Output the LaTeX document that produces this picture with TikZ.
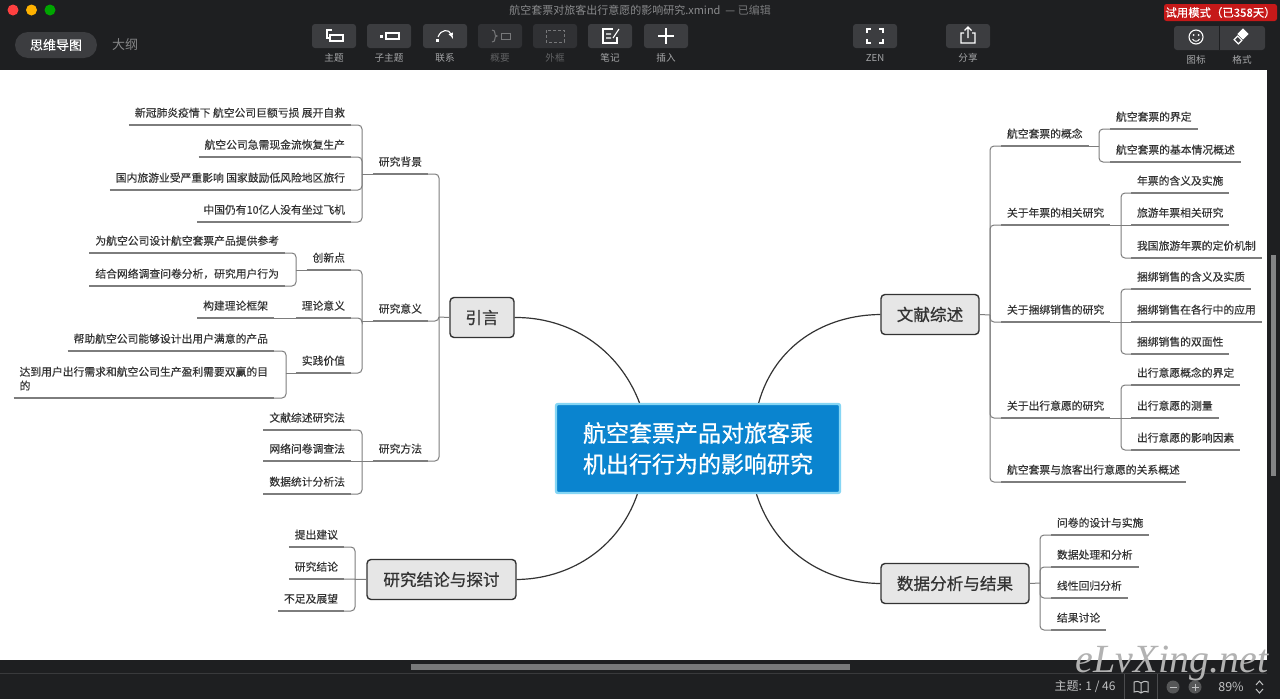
\documentclass[tikz,border=0pt]{standalone}
\usepackage{fontspec}
\setmainfont{Noto Sans CJK SC}
\newfontfamily\boxfont{Noto Sans CJK SC}[FakeBold=0.7]
\newfontfamily\subfont{Noto Sans CJK SC}[FakeBold=0.25]
\newfontfamily\markfont{Liberation Serif}
\usepackage{tikz}
\definecolor{barcol}{HTML}{1E1F21}
\definecolor{btncol}{HTML}{3C3D40}
\definecolor{dimcol}{HTML}{77787A}
\definecolor{labcol}{HTML}{A5A6A8}
\definecolor{linecol}{HTML}{7D7D7D}
\definecolor{inkcol}{HTML}{333333}
\definecolor{boxcol}{HTML}{E6E6E6}
\definecolor{bluecol}{HTML}{0A84CF}
\definecolor{edgecol}{HTML}{86D6F4}

\begin{document}
\begin{tikzpicture}[x=1pt, y=-1pt,
	main/.style = {draw=inkcol, fill=boxcol, text=inkcol, line width=1.4pt, rounded corners=4pt, minimum height=40pt, inner sep=0pt, font=\boxfont\fontsize{16.6}{20}\selectfont},
	sub/.style = {text=inkcol, inner xsep=6pt, inner ysep=4pt, outer sep=0pt, font=\subfont\fontsize{10.8}{14}\selectfont, execute at begin node=\strut, append after command={(\tikzlastnode.south west) edge[line width=1.1pt, draw=linecol] (\tikzlastnode.south east)}},
	lsub/.style = {sub, anchor=south east},
	rsub/.style = {sub, anchor=south west},
	link/.style = {draw=linecol, line width=1pt, rounded corners=4pt},
	curve/.style = {draw=inkcol, line width=1.2pt},
	btn/.style = {fill=btncol, rounded corners=3pt, minimum width=44pt, minimum height=24pt, inner sep=0pt},
	lab/.style = {text=labcol, inner sep=0pt, font=\fontsize{9.6}{12}\selectfont},
	dimlab/.style = {text=dimcol!75!barcol, inner sep=0pt, font=\fontsize{9.6}{12}\selectfont},
	icon/.style = {draw=white, line width=1.1pt},
	dimicon/.style = {draw=dimcol, line width=1pt}]
	\useasboundingbox (0,0) rectangle (1280,699);
	\fill[barcol] (0,0) rectangle (1280,699);
	\fill[white] (0,70) rectangle (1267,660);
	\fill[white!45!barcol] (1271,255) rectangle (1276,476);
	\fill[white!40!barcol] (411,664) rectangle (850,670);
	\draw[white!12!barcol] (0,673) -- (1267,673);

	\node[draw=edgecol, fill=bluecol, text=white, line width=2.4pt, rounded corners=2pt, minimum width=284pt, minimum height=89pt, align=center, font=\boxfont\fontsize{23}{31}\selectfont] (m) at (698,448.5) {航空套票产品对旅客乘\\机出行行为的影响研究};
	\node[main, minimum width=64pt] (n1) at (482,317.5) {引言};
	\node[main, minimum width=98pt] (n2) at (930,314.5) {文献综述};
	\node[main, minimum width=149pt] (n3) at (441.5,579.5) {研究结论与探讨};
	\node[main, minimum width=148pt] (n4) at (955,583.5) {数据分析与结果};
	\draw[curve] (m.142.5) .. controls (618,347) and (568,317) .. (n1.east);
	\draw[curve] (m.37.5) .. controls (775,345) and (825,315) .. (n2.west);
	\draw[curve] (m.217.5) .. controls (618,550) and (568,579) .. (n3.east);
	\draw[curve] (m.322.5) .. controls (775,552) and (825,583) .. (n4.west);

	\node[lsub] (a) at (428,174) {研究背景};
	\node[lsub] (a1) at (351,125) {新冠肺炎疫情下 航空公司巨额亏损 展开自救};
	\node[lsub] (a2) at (351,157) {航空公司急需现金流恢复生产};
	\node[lsub] (a3) at (351,190) {国内旅游业受严重影响 国家鼓励低风险地区旅行};
	\node[lsub] (a4) at (351,222) {中国仍有10亿人没有坐过飞机};
	\node[lsub] (b) at (428,321) {研究意义};
	\node[lsub] (b1) at (351,270) {创新点};
	\node[lsub] (b11) at (285,253) {为航空公司设计航空套票产品提供参考};
	\node[lsub] (b12) at (285,286) {结合网络调查问卷分析，研究用户行为};
	\node[lsub] (b2) at (351,318) {理论意义};
	\node[lsub] (b21) at (274,318) {构建理论框架};
	\node[lsub] (b3) at (351,373) {实践价值};
	\node[lsub] (b31) at (274,351) {帮助航空公司能够设计出用户满意的产品};
	\node[lsub, align=left] (b32) at (274,398) {达到用户出行需求和航空公司生产盈利需要双赢的目\\的\strut};
	\node[lsub] (c) at (428,461) {研究方法};
	\node[lsub] (c1) at (351,430) {文献综述研究法};
	\node[lsub] (c2) at (351,461) {网络问卷调查法};
	\node[lsub] (c3) at (351,494) {数据统计分析法};
	\coordinate (j1) at (439,317);
	\coordinate (ja) at (362,174);
	\coordinate (jb) at (362,321);
	\coordinate (jb1) at (296,270);
	\coordinate (jb3) at (286,373);
	\coordinate (jc) at (362,461);
	\draw[link] (j1) -- (n1.west);
	\draw[link] (a.south east) -| (j1);
	\draw[link] (b.south east) -| (j1);
	\draw[link] (c.south east) -| (j1);
	\draw[link] (a.south west) -- (ja);
	\draw[link] (a1.south east) -| (ja);
	\draw[link] (a2.south east) -| (ja);
	\draw[link] (a3.south east) -| (ja);
	\draw[link] (a4.south east) -| (ja);
	\draw[link] (b.south west) -- (jb);
	\draw[link] (b1.south east) -| (jb);
	\draw[link] (b2.south east) -| (jb);
	\draw[link] (b3.south east) -| (jb);
	\draw[link] (b1.south west) -- (jb1);
	\draw[link] (b11.south east) -| (jb1);
	\draw[link] (b12.south east) -| (jb1);
	\draw[link] (b21.south east) -- (b2.south west);
	\draw[link] (b3.south west) -- (jb3);
	\draw[link] (b31.south east) -| (jb3);
	\draw[link] (b32.south east) -| (jb3);
	\draw[link] (c.south west) -- (jc);
	\draw[link] (c1.south east) -| (jc);
	\draw[link] (c2.south east) -- (jc);
	\draw[link] (c3.south east) -| (jc);

	\node[rsub] (d) at (1001,146) {航空套票的概念};
	\node[rsub] (d1) at (1110,129) {航空套票的界定};
	\node[rsub] (d2) at (1110,162) {航空套票的基本情况概述};
	\node[rsub] (e) at (1001,225) {关于年票的相关研究};
	\node[rsub] (e1) at (1131,193) {年票的含义及实施};
	\node[rsub] (e2) at (1131,225) {旅游年票相关研究};
	\node[rsub] (e3) at (1131,258) {我国旅游年票的定价机制};
	\node[rsub] (f) at (1001,322) {关于捆绑销售的研究};
	\node[rsub] (f1) at (1131,289) {捆绑销售的含义及实质};
	\node[rsub] (f2) at (1131,322) {捆绑销售在各行中的应用};
	\node[rsub] (f3) at (1131,354) {捆绑销售的双面性};
	\node[rsub] (g) at (1001,418) {关于出行意愿的研究};
	\node[rsub] (g1) at (1131,385) {出行意愿概念的界定};
	\node[rsub] (g2) at (1131,418) {出行意愿的测量};
	\node[rsub] (g3) at (1131,450) {出行意愿的影响因素};
	\node[rsub] (h) at (1001,482) {航空套票与旅客出行意愿的关系概述};
	\coordinate (j2) at (990,315);
	\coordinate (jd) at (1099,146);
	\coordinate (je) at (1121,225);
	\coordinate (jf) at (1121,322);
	\coordinate (jg) at (1121,418);
	\draw[link] (n2.east) -- (j2);
	\draw[link] (d.south west) -| (j2);
	\draw[link] (e.south west) -| (j2);
	\draw[link] (f.south west) -| (j2);
	\draw[link] (g.south west) -| (j2);
	\draw[link] (h.south west) -| (j2);
	\draw[link] (d.south east) -- (jd);
	\draw[link] (d1.south west) -| (jd);
	\draw[link] (d2.south west) -| (jd);
	\draw[link] (e.south east) -- (e2.south west);
	\draw[link] (e1.south west) -| (je);
	\draw[link] (e3.south west) -| (je);
	\draw[link] (f.south east) -- (f2.south west);
	\draw[link] (f1.south west) -| (jf);
	\draw[link] (f3.south west) -| (jf);
	\draw[link] (g.south east) -- (g2.south west);
	\draw[link] (g1.south west) -| (jg);
	\draw[link] (g3.south west) -| (jg);

	\node[lsub] (k1) at (344,547) {提出建议};
	\node[lsub] (k2) at (344,579) {研究结论};
	\node[lsub] (k3) at (344,611) {不足及展望};
	\coordinate (j3) at (355,579);
	\draw[link] (n3.west) -- (k2.south east);
	\draw[link] (k1.south east) -| (j3);
	\draw[link] (k3.south east) -| (j3);

	\node[rsub] (p1) at (1051,535) {问卷的设计与实施};
	\node[rsub] (p2) at (1051,567) {数据处理和分析};
	\node[rsub] (p3) at (1051,598) {线性回归分析};
	\node[rsub] (p4) at (1051,630) {结果讨论};
	\coordinate (j4) at (1040,583);
	\draw[link] (n4.east) -- (j4);
	\draw[link] (p1.south west) -| (j4);
	\draw[link] (p2.south west) -| (j4);
	\draw[link] (p3.south west) -| (j4);
	\draw[link] (p4.south west) -| (j4);

	\fill[red!75!white] (13,10) circle (5.5pt);
	\fill[orange!60!yellow] (31.5,10) circle (5.5pt);
	\fill[green!65!black] (50,10) circle (5.5pt);
	\node[text=labcol!80!barcol, inner sep=0pt, font=\fontsize{11}{13}\selectfont] (title) at (640,10) {航空套票对旅客出行意愿的影响研究.xmind\ \ — \textcolor{dimcol}{已编辑}};
	\node[fill=btncol, rounded corners=13pt, minimum width=82pt, minimum height=26pt, inner sep=0pt, text=white, font=\subfont\fontsize{13}{16}\selectfont] (tab1) at (56,45) {思维导图};
	\node[text=dimcol!90!white, inner sep=0pt, font=\fontsize{13}{16}\selectfont] (tab2) at (125,45) {大纲};

	\node[btn] (t1) at (334,36) {};
	\node[btn] (t2) at (389,36) {};
	\node[btn] (t3) at (445,36) {};
	\node[btn, fill=btncol!60!barcol] (t4) at (500,36) {};
	\node[btn, fill=btncol!60!barcol] (t5) at (555,36) {};
	\node[btn] (t6) at (610,36) {};
	\node[btn] (t7) at (666,36) {};
	\node[btn] (t8) at (875,36) {};
	\node[btn] (t9) at (968,36) {};
	\node[lab] (l1) at (334,58) {主题};
	\node[lab] (l2) at (389,58) {子主题};
	\node[lab] (l3) at (445,58) {联系};
	\node[dimlab] (l4) at (500,58) {概要};
	\node[dimlab] (l5) at (555,58) {外框};
	\node[lab] (l6) at (610,58) {笔记};
	\node[lab] (l7) at (666,58) {插入};
	\node[lab] (l8) at (875,58) {ZEN};
	\node[lab] (l9) at (968,58) {分享};
	\node[lab] (l10) at (1196,60) {图标};
	\node[lab] (l11) at (1242,60) {格式};

	\draw[icon] (332,30) -- (327,30) -- (327,38) -- (330,38);
	\draw[icon] (330,35) rectangle (343,41);
	\fill[white] (380,34.5) rectangle (383,37.5);
	\draw[icon] (386,33) rectangle (399,39);
	\fill[white] (436,39) rectangle (439,42);
	\draw[icon, -latex] (438,37) .. controls (441,29) and (449,29) .. (453,39);
	\draw[dimicon] (492,30) .. controls (497,30) and (493,36) .. (497,36) .. controls (493,36) and (497,42) .. (492,42);
	\draw[dimicon] (501,33) rectangle (510,39);
	\draw[dimicon, dash pattern=on 3pt off 2pt] (546,30) rectangle (564,42);
	\draw[icon] (613,29) -- (603,29) -- (603,43) -- (617,43) -- (617,37);
	\draw[icon] (606,34) -- (611,34) (606,38) -- (611,38) (613,38) -- (619,29);
	\draw[icon, line width=1.5pt] (658,36) -- (674,36) (666,28) -- (666,44);
	\draw[icon, line width=1.3pt] (867,33) |- (871,29) (879,29) -| (883,33) (883,39) |- (879,43) (871,43) -| (867,39);
	\draw[icon] (964,33) -| (961,43) -| (975,33) -- (972,33) (968,38) -- (968,27) (964.5,30.5) -- (968,27) -- (971.5,30.5);

	\node[fill=btncol, rounded corners=3pt, minimum width=91pt, minimum height=24pt, inner sep=0pt] (fmt) at (1219.5,38) {};
	\draw[barcol] (1219,26) -- (1219,50);
	\draw[icon] (1196,37) circle (7pt);
	\fill[white] (1193.5,35) circle (1pt) (1198.5,35) circle (1pt);
	\draw[icon, line width=.9pt] (1192.5,39) .. controls (1194,42) and (1198,42) .. (1199.5,39);
	\fill[white, rotate around={45:(1243,34)}] (1239,30) rectangle (1247,38);
	\draw[icon, rotate around={45:(1238,40)}] (1235.5,37) rectangle (1240.5,43);

	\node[fill=red!75!black!90!white, rounded corners=2.5pt, minimum width=113pt, minimum height=17pt, inner sep=0pt, text=white, font=\subfont\fontsize{11.4}{13}\selectfont] (trial) at (1220.5,12.5) {试用模式（已358天）};

	\node[text=labcol!70!white, inner sep=0pt, font=\fontsize{12}{14}\selectfont] (count) at (1085,687) {主题: 1 / 46};
	\draw[white!20!barcol] (1124,674) -- (1124,699) (1157,674) -- (1157,699);
	\draw[draw=labcol!70!white, line width=1pt] (1141,683) .. controls (1138,681) and (1136,681) .. (1134,682) -- (1134,692) .. controls (1136,691) and (1138,691) .. (1141,693) .. controls (1144,691) and (1146,691) .. (1148,692) -- (1148,682) .. controls (1146,681) and (1144,681) .. (1141,683) -- (1141,693);
	\fill[white!25!barcol] (1173,687) circle (6.5pt) (1195,687) circle (6.5pt);
	\draw[draw=labcol!70!white, line width=1pt] (1169.5,687) -- (1176.5,687) (1191.5,687) -- (1198.5,687) (1195,683.5) -- (1195,690.5);
	\node[text=labcol!70!white, inner sep=0pt, font=\fontsize{12.5}{14}\selectfont] (zoomval) at (1231,687) {89\%};
	\draw[draw=labcol!70!white, line width=1pt] (1256,685) -- (1259.5,681) -- (1263,685) (1256,689) -- (1259.5,693) -- (1263,689);
	\node[text=white!70!black, inner sep=0pt, font=\markfont\itshape\fontsize{40}{44}\selectfont] (mark) at (1172,664) {eLvXing.net};
\end{tikzpicture}
\end{document}
